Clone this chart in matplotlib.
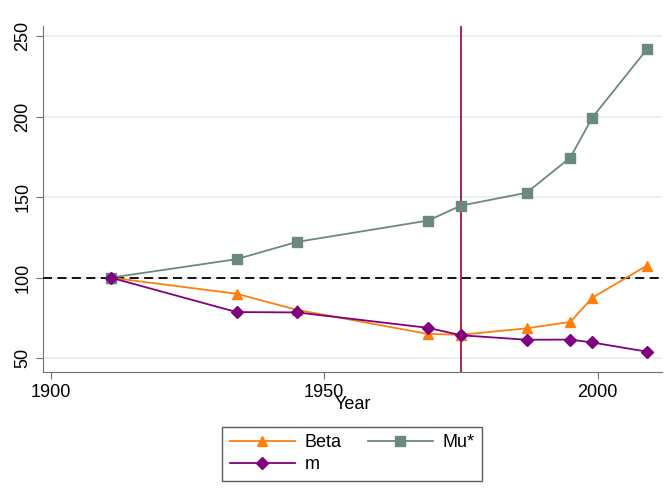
import matplotlib.pyplot as plt

# Values
years = [1911, 1934, 1945, 1969, 1975, 1987, 1995, 1999, 2009]
beta = [100, 90, 80, 65, 64.5, 68.5, 72.5, 87.5, 107.5]
mu_star = [100, 111.5, 122.2, 135.5, 144.8, 152.8, 174.7, 199.5, 242]
m = [100, 78.6, 78.4, 68.8, 64.2, 61.4, 61.5, 59.7, 54]

x_ticks = [1900, 1950, 2000]
y_ticks = [50, 100, 150, 200, 250]
ref_year = 1975
ref_level = 100


def main():
    plt.rcParams["font.family"] = ["Liberation Sans", "DejaVu Sans"]
    plt.rcParams["font.size"] = 13

    fig = plt.figure(figsize=(6.71, 4.99), dpi=100)
    ax = fig.add_axes([0.064, 0.255, 0.923, 0.693])

    l_beta, = ax.plot(years, beta, color="#ff7f0e", lw=1.3, marker="^",
                      ms=7, label="Beta", zorder=4)
    l_mu, = ax.plot(years, mu_star, color="#6b8a7d", lw=1.3, marker="s",
                    ms=6.5, label="Mu*", zorder=4)
    l_m, = ax.plot(years, m, color="#800080", lw=1.3, marker="D", ms=6.5,
                   label="m", zorder=5)

    ax.axhline(ref_level, color="black", lw=1.3, ls=(0, (5, 3)), zorder=3)
    ax.axvline(ref_year, color="#b0103c", lw=1.3, zorder=3)

    ax.set_xlim(1898.6, 2011.8)
    ax.set_ylim(41.5, 256.5)
    ax.set_xticks(x_ticks)
    ax.set_yticks(y_ticks)
    ax.set_yticklabels([str(v) for v in y_ticks], rotation=90, va="center")

    ax.grid(axis="y", color="#e6eef3", lw=1.2)
    ax.set_axisbelow(True)
    for side in ["top", "right"]:
        ax.spines[side].set_visible(False)
    for side in ["left", "bottom"]:
        ax.spines[side].set_color("#707070")
    ax.tick_params(colors="#707070", labelcolor="black", length=5)

    ax.set_xlabel("Year", labelpad=-3)

    # column-wise fill: Beta, m in column 1, Mu* in column 2
    fig.legend([l_beta, l_m, l_mu], ["Beta", "m", "Mu*"],
               loc="center", bbox_to_anchor=(0.525, 0.091), ncol=2,
               frameon=True, fancybox=False, edgecolor="#333333",
               handlelength=3.6, handletextpad=0.55, columnspacing=1.45,
               borderpad=0.4, labelspacing=0.3)

    fig.savefig("out.png", dpi=100)


if __name__ == "__main__":
    main()
